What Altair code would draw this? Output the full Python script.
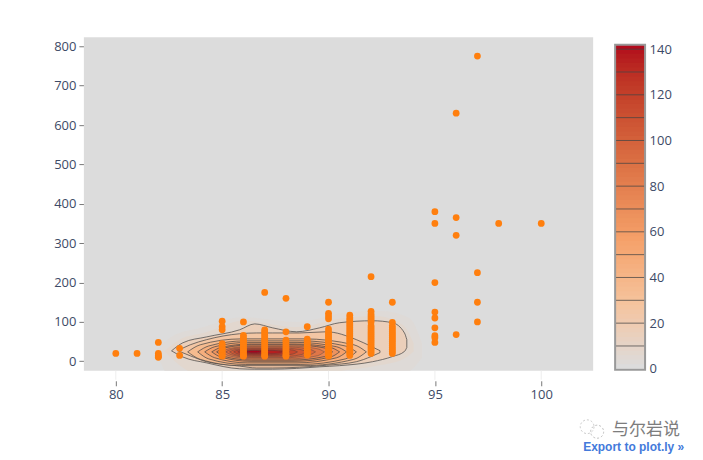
import altair as alt
import pandas as pd

# ---------- scatter ----------
scatter_x = {
    80: [20], 81: [20], 82: [48, 20, 15, 12, 10], 83: [33, 15],
    85: [102, 88, 80, 45, 40, 35, 30, 25, 20, 15, 13],
    86: [100, 66, 60, 55, 50, 45, 40, 35, 30, 25, 20, 15, 13],
    87: [175, 80, 75, 70, 65, 60, 55, 50, 45, 40, 35, 30, 25, 20, 15, 13],
    88: [160, 75, 54, 50, 45, 40, 35, 30, 25, 20, 15, 13],
    89: [88, 56, 50, 45, 40, 35, 30, 25, 20, 16],
    90: [150, 122, 115, 108, 82, 75, 70, 65, 60, 55, 50, 45, 40, 35, 30, 25, 20, 15, 13],
    91: [117, 110, 105, 100, 95, 90, 85, 80, 75, 70, 65, 60, 55, 50, 45, 40, 35, 30, 25, 20, 15],
    92: [215, 127, 120, 115, 110, 105, 100, 90, 85, 80, 75, 70, 65, 60, 55, 50, 45, 40, 35, 30, 25, 20],
    93: [150, 99, 90, 85, 80, 75, 70, 65, 60, 55, 50, 45, 40, 35, 30, 25, 20],
    95: [380, 350, 200, 125, 110, 85, 65, 60, 48],
    96: [630, 365, 320, 68],
    97: [775, 225, 150, 100],
    98: [350],
    100: [350],
}

# ---------- density bands: level, x, upper edge, lower edge ----------
glow_bands = [
    (2, [81.9, 82.6, 84.0, 86.0, 88.5, 91.0, 92.5, 93.8, 94.4], [28, 62, 85, 112, 100, 125, 128, 110, 45], [24, -40, -40, -40, -40, -40, -40, -25, 10]),
    (6, [82.3, 83.0, 84.2, 86.0, 88.5, 90.5, 92.2, 93.5, 94.0], [27, 55, 73, 103, 87, 108, 115, 92, 45], [25, -10, -40, -40, -40, -25, -12, 5, 25]),
]
outer_bands = [
    (15, [82.62, 83.15, 84.27, 85.82, 86.53, 87.37, 88.5, 89.58, 90.52, 92.07, 93.0, 93.57, 93.68],
     [26.6, 47, 62, 80, 95, 85, 75, 85, 98, 103, 98, 72, 55],
     [26.6, 11, -4, -19, -20, -20, -18, -14, -11, -1, 12, 25, 35]),
    (25, [82.91, 83.5, 84.27, 85.82, 86.62, 87.37, 88.64, 89.9, 91.31, 92.0, 92.42],
     [27, 42, 55, 70, 72, 72, 72, 75, 55, 38, 27],
     [27, 14, -1, -12, -17, -17, -15, -10, -1, 12, 22]),
    (35, [83.38, 83.97, 85.9, 88.85, 91.19, 91.78], [24, 42, 57, 57, 42, 24], [24, 5, -11, -11, 5, 24]),
    (45, [83.85, 84.37, 86.09, 88.7, 90.79, 91.31], [24, 39, 52, 52, 39, 24], [24, 6, -8, -8, 6, 24]),
    (55, [84.18, 84.65, 86.18, 88.52, 90.38, 90.85], [24, 37, 48, 48, 37, 24], [24, 9, -4, -4, 9, 24]),
    (65, [84.51, 84.93, 86.31, 88.42, 90.1, 90.52], [24, 35, 44, 44, 35, 24], [24, 11, 0, 0, 11, 24]),
    (75, [84.74, 85.12, 86.38, 88.28, 89.81, 90.19], [24, 34, 42, 42, 34, 24], [24, 12, 3, 3, 12, 24]),
]
inner_bands = [
    (85, [84.98, 85.32, 86.43, 88.12, 89.47, 89.81], [24, 32, 39, 39, 32, 24], [24, 14, 6, 6, 14, 24]),
    (95, [85.16, 85.46, 86.43, 87.91, 89.09, 89.39], [24, 31, 37, 37, 31, 24], [24, 16, 9, 9, 16, 24]),
    (105, [85.35, 85.6, 86.44, 87.7, 88.72, 88.97], [24, 29.5, 34, 34, 29.5, 24], [24, 17, 11, 11, 17, 24]),
    (115, [85.54, 85.75, 86.44, 87.49, 88.33, 88.54], [24, 28.5, 32, 32, 28.5, 24], [24, 18.5, 14, 14, 18.5, 24]),
    (125, [85.73, 85.9, 86.46, 87.32, 88.0, 88.17], [24, 27, 29, 29, 27, 24], [24, 20, 16.5, 16.5, 20, 24]),
    (135, [85.92, 86.05, 86.5, 87.17, 87.71, 87.84], [24, 26, 28, 28, 26, 24], [24, 21, 19, 19, 21, 24]),
    (142, [86.15, 86.2, 86.36, 86.6, 86.8, 86.85], [24, 25.5, 27, 27, 25.5, 24], [24, 22.7, 21.6, 21.6, 22.7, 24]),
]

x_ticks = [80, 85, 90, 95, 100]
y_ticks = [0, 100, 200, 300, 400, 500, 600, 700, 800]
bar_ticks = [0, 20, 40, 60, 80, 100, 120, 140]
bar_lines = [10, 20, 30, 40, 50, 60, 70, 80, 90, 100, 110, 120, 130, 140]
bar_stops = list(range(0, 141, 2))
bar_top = 141.9

color_stops = [0, 28, 56, 140]
color_range = ["rgb(220,220,220)", "rgb(245,195,157)", "rgb(245,160,105)", "rgb(178,10,28)"]
LABEL = "#3d4a66"
TICK = "#777777"


def band_table(bands):
    rows = []
    for level, xs, tops, bots in bands:
        for a, t, b in zip(xs, tops, bots):
            rows.append({"z": level, "x": a, "top": t, "bot": b})
    return pd.DataFrame(rows)


color_scale = alt.Scale(domain=color_stops, range=color_range)
xs = alt.Scale(domain=[78.5, 102.44], nice=False, zero=False)
ys = alt.Scale(domain=[-24.1, 822.8], nice=False, zero=False)
x_enc = alt.X("x:Q", scale=xs, title=None,
              axis=alt.Axis(values=x_ticks, grid=False, domain=False, offset=10, tickSize=5, tickColor=TICK,
                            labelColor=LABEL, labelFontSize=13, labelFont="Open Sans", labelPadding=3,
                            labelFlush=False))
y_axis = alt.Axis(values=y_ticks, grid=False, domain=False, tickSize=5, tickColor=TICK, labelColor=LABEL,
                  labelFontSize=13, labelFont="Open Sans", labelPadding=3, minExtent=40, maxExtent=40)
y_enc = alt.Y("y:Q", scale=ys, title=None, axis=y_axis)

W, H = 510, 334

plot_bg = alt.Chart(alt.Data(values=[{"a": 1}])).mark_rect(color="#DCDCDC").encode(
    x=alt.value(0), x2=alt.value(W), y=alt.value(0), y2=alt.value(H))


def area_layer(table, **style):
    return alt.Chart(table).mark_area(interpolate="monotone", clip=True, **style).encode(
        x=x_enc,
        y=alt.Y("top:Q", scale=ys, title=None, axis=y_axis),
        y2="bot:Q",
        detail="z:Q",
        color=alt.Color("z:Q", scale=color_scale, legend=None),
    )


glow = area_layer(band_table(glow_bands))
outer = area_layer(band_table(outer_bands), stroke="#444444", strokeOpacity=0.72, strokeWidth=1)
inner = area_layer(band_table(inner_bands), stroke="#444444", strokeOpacity=0.42, strokeWidth=1)

points_df = pd.DataFrame([{"x": k, "y": v} for k, vals in scatter_x.items() for v in vals])
points = alt.Chart(points_df).mark_circle(size=46, color="#ff7f0e", opacity=1).encode(x=x_enc, y=y_enc)

gaps = alt.Chart(pd.DataFrame({"x": x_ticks})).mark_rule(color="#eeeeee", clip=False).encode(
    x=alt.X("x:Q", scale=xs), y=alt.value(H), y2=alt.value(H + 9))

export = alt.Chart(alt.Data(values=[{"a": 1}])).mark_text(
    text="Export to plot.ly »", align="left", baseline="middle", font="Liberation Sans", fontWeight="bold",
    fontSize=12, color="#447adb").encode(x=alt.value(500), y=alt.value(410))
mark_name = alt.Chart(alt.Data(values=[{"a": 1}])).mark_text(
    text="与尔岩说", align="left", baseline="middle", font="Noto Sans CJK SC", fontSize=17,
    color="#7d7d7d").encode(x=alt.value(529), y=alt.value(393))
bubble1 = alt.Chart(alt.Data(values=[{"a": 1}])).mark_point(
    shape="circle", size=190, stroke="#b5b5b5", strokeWidth=1, strokeDash=[2, 2], fill=None).encode(
    x=alt.value(504), y=alt.value(390))
bubble2 = alt.Chart(alt.Data(values=[{"a": 1}])).mark_point(
    shape="circle", size=170, stroke="#a5a5a5", strokeWidth=1, strokeDash=[2, 2], fill=None).encode(
    x=alt.value(514), y=alt.value(395))

main = alt.layer(plot_bg, glow, outer, inner, points, gaps, bubble1, bubble2, mark_name, export).properties(
    width=W, height=H)

# ---------- colour bar ----------
bs = alt.Scale(domain=[-0.875, 145.2], nice=False, zero=False)
bar_df = pd.DataFrame({"v": bar_stops, "v2": [min(v + 3, bar_top) for v in bar_stops]})
bar_rect = alt.Chart(bar_df).mark_rect(stroke=None).encode(
    x=alt.value(0), x2=alt.value(30),
    y=alt.Y("v:Q", scale=bs, title=None,
            axis=alt.Axis(orient="right", values=bar_ticks, grid=False, domain=False, ticks=False, labelColor=LABEL,
                          labelFontSize=13, labelFont="Open Sans", labelPadding=4)),
    y2="v2:Q",
    color=alt.Color("v:Q", scale=color_scale, legend=None),
)
bar_rules = alt.Chart(pd.DataFrame({"v": bar_lines})).mark_rule(color="#444444", opacity=0.75, strokeWidth=1).encode(
    x=alt.value(0), x2=alt.value(30), y=alt.Y("v:Q", scale=bs))
bar_frame = alt.Chart(pd.DataFrame({"a": [-0.4], "b": [bar_top]})).mark_rect(
    fill=None, stroke="#999999", strokeWidth=2).encode(
    x=alt.value(0), x2=alt.value(30), y=alt.Y("a:Q", scale=bs), y2="b:Q")
bar = alt.layer(bar_rect, bar_rules, bar_frame).properties(width=30, height=H)

chart = alt.hconcat(main, bar, spacing=22, bounds="flush").properties(
    padding={"left": 36, "top": 29, "right": 10, "bottom": 10}, background="white"
).configure_view(stroke=None)

chart.save("out.html", embed_options={"renderer": "svg", "actions": False})
